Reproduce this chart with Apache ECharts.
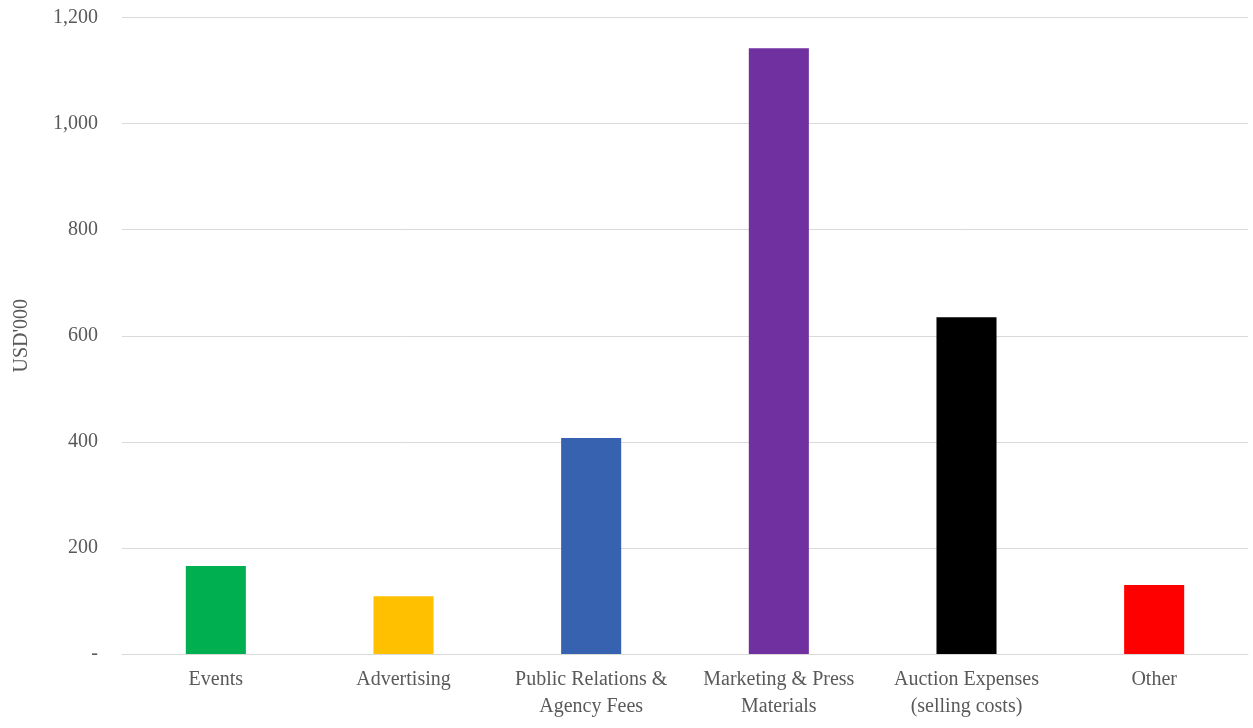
<!DOCTYPE html>
<html>
<head>
<meta charset="utf-8">
<script src="https://cdn.jsdelivr.net/npm/echarts@6/dist/echarts.min.js"></script>
<style>html,body{margin:0;padding:0;background:#fff;}#c{width:1253px;height:728px;}</style>
</head>
<body>
<div id="c"></div>
<script>
var categories = ["Events", "Advertising", "Public Relations &\nAgency Fees", "Marketing & Press\nMaterials", "Auction Expenses\n(selling costs)", "Other"];
var values = [166, 109, 407, 1142, 635, 130];
var colors = ["#00B050", "#FFC000", "#3662AF", "#7030A0", "#000000", "#FF0000"];
var yTicks = [0, 200, 400, 600, 800, 1000, 1200];
var yAxisName = "USD'000";

var font = "'Liberation Serif', 'DejaVu Serif', serif";
var chart = echarts.init(document.getElementById('c'));
chart.setOption({
  animation: false,
  backgroundColor: '#fff',
  grid: {left: 122, right: 5, top: 17.5, bottom: 74},
  xAxis: {
    type: 'category',
    data: categories,
    axisLine: {lineStyle: {color: '#d9d9d9', width: 1}},
    axisTick: {show: false},
    axisLabel: {color: '#595959', fontFamily: font, fontSize: 20, lineHeight: 27, margin: 12, interval: 0}
  },
  yAxis: {
    type: 'value',
    min: yTicks[0],
    max: yTicks[yTicks.length - 1],
    interval: 200,
    name: yAxisName,
    nameLocation: 'middle',
    nameGap: 90,
    nameRotate: 90,
    nameTextStyle: {color: '#595959', fontFamily: font, fontSize: 20},
    axisLine: {show: false},
    axisTick: {show: false},
    splitLine: {lineStyle: {color: '#d9d9d9', width: 1}},
    axisLabel: {
      color: '#595959', fontFamily: font, fontSize: 20, margin: 24,
      formatter: function (v) { return v === 0 ? '-' : v.toLocaleString('en-US'); }
    }
  },
  series: [{
    type: 'bar',
    barWidth: '32%',
    data: values.map(function (v, i) { return {value: v, itemStyle: {color: colors[i]}}; })
  }]
});
</script>
</body>
</html>
